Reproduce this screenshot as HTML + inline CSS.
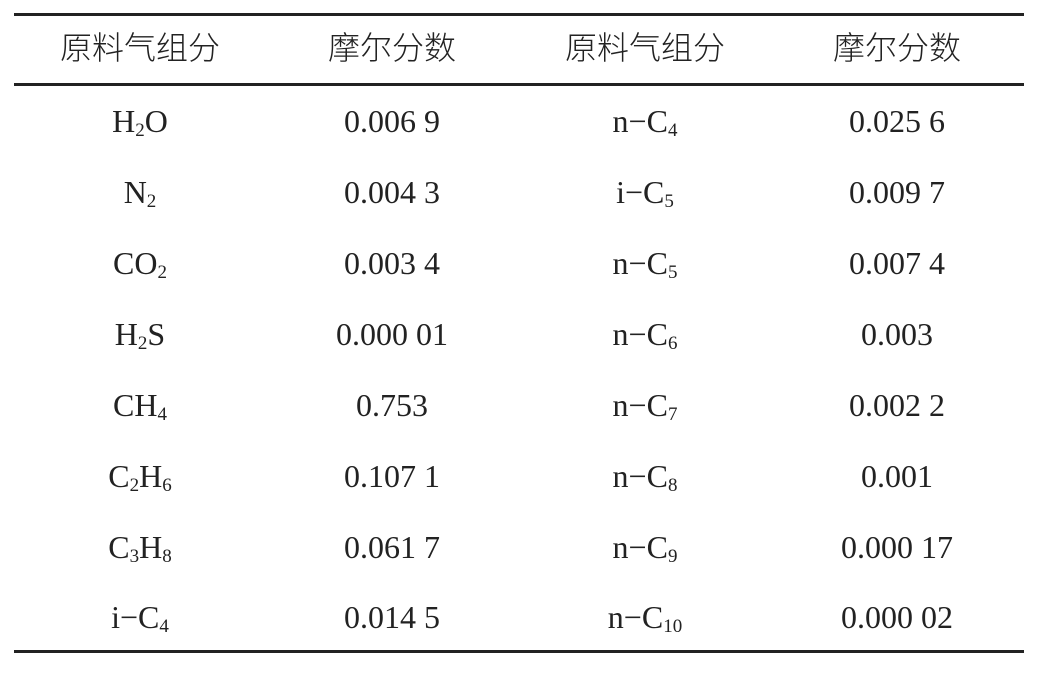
<!DOCTYPE html>
<html><head><meta charset="utf-8"><style>
body{margin:0;width:1054px;height:673px;background:#fff;position:relative;overflow:hidden;}
.l{position:absolute;left:14px;width:1010px;height:3px;background:#222;}
.c{position:absolute;width:250px;text-align:center;transform:translateX(-50%);color:#222;}
.h{font-family:"Noto Sans CJK SC","WenQuanYi Zen Hei",sans-serif;font-weight:300;font-size:32px;top:26px;line-height:40px;}
.b{font-family:"Liberation Serif",serif;font-size:32px;line-height:36px;}
sub{font-size:19px;vertical-align:-4px;line-height:0;}
</style></head><body>
<div class="l" style="top:13px"></div>
<div class="l" style="top:83px"></div>
<div class="l" style="top:650px"></div>
<div class="c h" style="left:140px">原料气组分</div>
<div class="c h" style="left:392px">摩尔分数</div>
<div class="c h" style="left:645px">原料气组分</div>
<div class="c h" style="left:897px">摩尔分数</div>

<div class="c b" style="left:140px;top:103px">H<sub>2</sub>O</div>
<div class="c b" style="left:392px;top:103px">0.006 9</div>
<div class="c b" style="left:645px;top:103px">n−C<sub>4</sub></div>
<div class="c b" style="left:897px;top:103px">0.025 6</div>

<div class="c b" style="left:140px;top:174px">N<sub>2</sub></div>
<div class="c b" style="left:392px;top:174px">0.004 3</div>
<div class="c b" style="left:645px;top:174px">i−C<sub>5</sub></div>
<div class="c b" style="left:897px;top:174px">0.009 7</div>

<div class="c b" style="left:140px;top:245px">CO<sub>2</sub></div>
<div class="c b" style="left:392px;top:245px">0.003 4</div>
<div class="c b" style="left:645px;top:245px">n−C<sub>5</sub></div>
<div class="c b" style="left:897px;top:245px">0.007 4</div>

<div class="c b" style="left:140px;top:316px">H<sub>2</sub>S</div>
<div class="c b" style="left:392px;top:316px">0.000 01</div>
<div class="c b" style="left:645px;top:316px">n−C<sub>6</sub></div>
<div class="c b" style="left:897px;top:316px">0.003</div>

<div class="c b" style="left:140px;top:387px">CH<sub>4</sub></div>
<div class="c b" style="left:392px;top:387px">0.753</div>
<div class="c b" style="left:645px;top:387px">n−C<sub>7</sub></div>
<div class="c b" style="left:897px;top:387px">0.002 2</div>

<div class="c b" style="left:140px;top:458px">C<sub>2</sub>H<sub>6</sub></div>
<div class="c b" style="left:392px;top:458px">0.107 1</div>
<div class="c b" style="left:645px;top:458px">n−C<sub>8</sub></div>
<div class="c b" style="left:897px;top:458px">0.001</div>

<div class="c b" style="left:140px;top:529px">C<sub>3</sub>H<sub>8</sub></div>
<div class="c b" style="left:392px;top:529px">0.061 7</div>
<div class="c b" style="left:645px;top:529px">n−C<sub>9</sub></div>
<div class="c b" style="left:897px;top:529px">0.000 17</div>

<div class="c b" style="left:140px;top:599px">i−C<sub>4</sub></div>
<div class="c b" style="left:392px;top:599px">0.014 5</div>
<div class="c b" style="left:645px;top:599px">n−C<sub>10</sub></div>
<div class="c b" style="left:897px;top:599px">0.000 02</div>
</body></html>
